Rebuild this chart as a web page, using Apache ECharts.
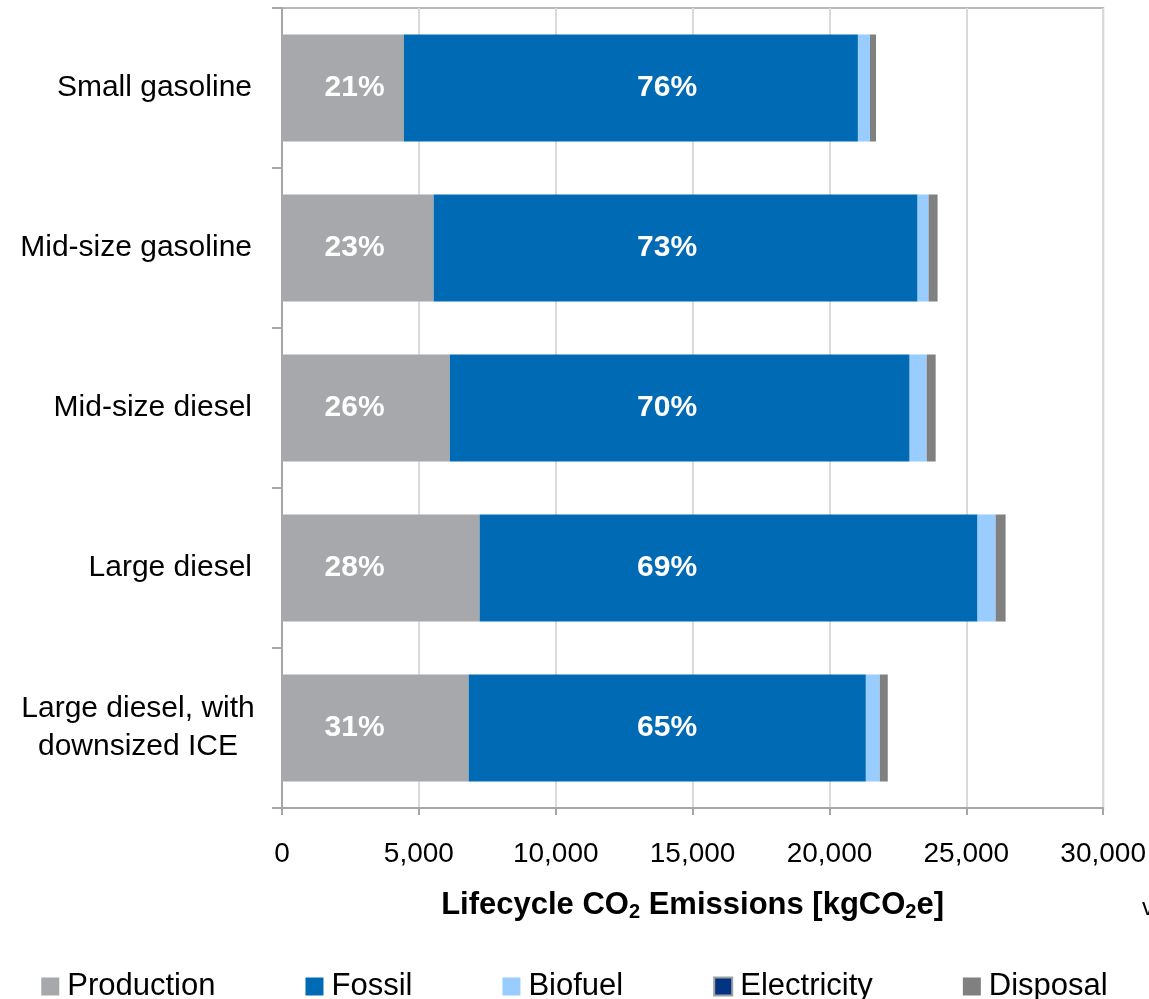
<!DOCTYPE html>
<html>
<head>
<meta charset="utf-8">
<script src="https://cdn.jsdelivr.net/npm/echarts@6/dist/echarts.min.js"></script>
<style>
  html, body { margin: 0; padding: 0; background: #fff; }
  #chart { width: 1149px; height: 999px; }
</style>
</head>
<body>
<div id="chart"></div>
<script>
const categories = ["Small gasoline", "Mid-size gasoline", "Mid-size diesel", "Large diesel", "Large diesel, with\ndownsized ICE"];
const production = [4450, 5540, 6130, 7220, 6820];
const fossil = [16590, 17680, 16800, 18190, 14510];
const biofuel = [440, 400, 620, 660, 510];
const electricity = [0, 0, 0, 0, 0];
const disposal = [220, 330, 330, 365, 290];
const productionPct = ["21%", "23%", "26%", "28%", "31%"];
const fossilPct = ["76%", "73%", "70%", "69%", "65%"];
const xTicks = [0, 5000, 10000, 15000, 20000, 25000, 30000];

// the percent labels sit at the same x on every row in the original
const pctAnchor = { production: 2650, fossil: 14070 };

const font = "Liberation Sans, Arial, sans-serif";
const colors = {
  Production: "#a7a8ab",
  Fossil: "#006ab4",
  Biofuel: "#99ccff",
  Electricity: "#003380",
  Disposal: "#808080"
};

const chart = echarts.init(document.getElementById("chart"));

const barSeries = (name, data) => ({
  name,
  type: "bar",
  stack: "total",
  barWidth: 107,
  data,
  itemStyle: { color: colors[name] },
  emphasis: { disabled: true }
});

const pctSeries = (anchor, labels) => ({
  type: "scatter",
  symbolSize: 0,
  silent: true,
  z: 10,
  itemStyle: { opacity: 1 },
  data: labels.map((t, i) => ({ value: [anchor, categories[i]], pct: t })),
  label: {
    show: true,
    position: "inside",
    formatter: (p) => p.data.pct,
    color: "#ffffff",
    opacity: 1,
    fontFamily: font,
    fontWeight: "bold",
    fontSize: 30
  }
});

const option = {
  animation: false,
  textStyle: { fontFamily: font },
  grid: {
    left: 282,
    right: 43,
    top: 8,
    bottom: 191,
    show: true,
    borderColor: "#b8b8b8",
    borderWidth: 2
  },
  legend: {
    top: 966,
    left: "center",
    itemWidth: 18,
    itemHeight: 18,
    itemGap: 90,
    icon: "rect",
    textStyle: { fontSize: 31, color: "#000", fontFamily: font, padding: [0, 0, 0, 3] },
    data: [
      { name: "Production" },
      { name: "Fossil" },
      { name: "Biofuel" },
      { name: "Electricity", itemStyle: { borderColor: "#a0a0a0", borderWidth: 2 } },
      { name: "Disposal" }
    ]
  },
  xAxis: {
    type: "value",
    min: xTicks[0],
    max: xTicks[xTicks.length - 1],
    interval: 5000,
    name: "{b|Lifecycle CO}{s|2}{b| Emissions [kgCO}{s|2}{b|e]}",
    nameLocation: "middle",
    nameGap: 81,
    nameTextStyle: {
      rich: {
        b: { fontSize: 31, fontWeight: "bold", color: "#000", fontFamily: font },
        s: { fontSize: 20, fontWeight: "bold", color: "#000", fontFamily: font, padding: [13, 0, 0, 0] }
      }
    },
    axisLine: { show: true, lineStyle: { color: "#a6a6a6", width: 2 } },
    axisTick: { show: true, length: 7, lineStyle: { color: "#a6a6a6", width: 2 } },
    axisLabel: {
      fontSize: 28,
      color: "#000",
      margin: 32,
      formatter: (v) => v.toLocaleString("en-US")
    },
    splitLine: { show: true, lineStyle: { color: "#dadada", width: 2 } }
  },
  yAxis: {
    type: "category",
    inverse: true,
    data: categories,
    axisLine: { show: true, lineStyle: { color: "#a6a6a6", width: 2 } },
    axisTick: { show: true, length: 10, lineStyle: { color: "#a6a6a6", width: 2 } },
    axisLabel: {
      fontSize: 30,
      color: "#000",
      margin: 30,
      lineHeight: 38,
      formatter: (v) => v.indexOf("\n") >= 0 ? v.split("\n").map((s) => "{c|" + s + "}").join("\n") : v,
      rich: {
        c: { width: 228, align: "center", fontSize: 30, lineHeight: 38, color: "#000", fontFamily: font }
      }
    }
  },
  graphic: [
    { type: "text", left: 1142, top: 896, style: { text: "v", fontSize: 24, fill: "#000", fontFamily: font } }
  ],
  series: [
    barSeries("Production", production),
    barSeries("Fossil", fossil),
    barSeries("Biofuel", biofuel),
    barSeries("Electricity", electricity),
    barSeries("Disposal", disposal),
    pctSeries(pctAnchor.production, productionPct),
    pctSeries(pctAnchor.fossil, fossilPct)
  ]
};

chart.setOption(option);
window.addEventListener("resize", () => chart.resize());
</script>
</body>
</html>
